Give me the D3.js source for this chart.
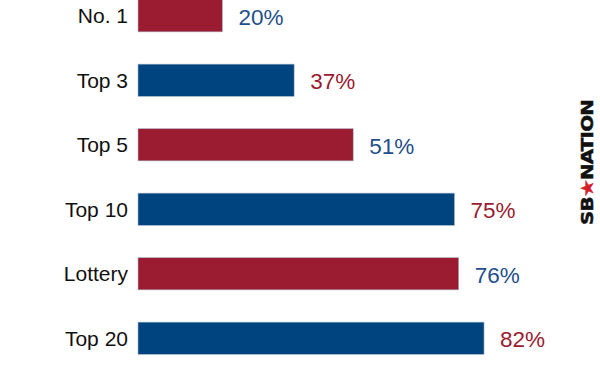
<!DOCTYPE html>
<html><head><meta charset="utf-8">
<script src="https://cdn.jsdelivr.net/npm/d3@7/dist/d3.min.js"></script>
<style>body{margin:0;background:#fff}svg{display:block}</style>
</head><body>
<svg id="c" width="600" height="380"></svg>
<script>
const categories = ["No. 1","Top 3","Top 5","Top 10","Lottery","Top 20"];
const values = [20,37,51,75,76,82];
const barColors = ["#9b1b30","#00447f","#9b1b30","#00447f","#9b1b30","#00447f"];
const labelColors = ["#1f4f8c","#9b1b30","#1f4f8c","#9b1b30","#1f4f8c","#9b1b30"];

const svg = d3.select("#c");
const x = d3.scaleLinear().domain([0,100]).range([138,560]);
const y = d3.scaleBand().domain(categories).range([-16.5,370.5]).paddingInner(0.5).paddingOuter(0.25);

svg.selectAll("rect.bar").data(values).join("rect")
  .attr("class","bar")
  .attr("x",x(0)).attr("y",(d,i)=>y(categories[i]))
  .attr("width",d=>x(d)-x(0)).attr("height",y.bandwidth())
  .attr("fill",(d,i)=>barColors[i])
  .attr("stroke","#a9b8cc").attr("stroke-width",0.6);

svg.selectAll("text.cat").data(categories).join("text")
  .attr("class","cat")
  .attr("x",128).attr("y",d=>y(d)+y.bandwidth()/2)
  .attr("dy","0.35em").attr("text-anchor","end")
  .attr("font-family","Liberation Sans, Arial, sans-serif").attr("font-size",21)
  .attr("fill","#111").text(d=>d);

svg.selectAll("text.val").data(values).join("text")
  .attr("class","val")
  .attr("x",d=>x(d)+16).attr("y",(d,i)=>y(categories[i])+y.bandwidth()/2+1)
  .attr("dy","0.35em")
  .attr("font-family","Liberation Sans, Arial, sans-serif").attr("font-size",22.5)
  .attr("fill",(d,i)=>labelColors[i]).text(d=>d+"%");

const logo = svg.append("text")
  .attr("transform","translate(593,225) rotate(-90) scale(1.2,1)")
  .attr("font-family","DejaVu Sans, sans-serif").attr("font-weight","bold")
  .attr("font-size",16.5).attr("fill","#111")
  .attr("stroke","#111").attr("stroke-width",0.5)
  .attr("letter-spacing",-0.6);
logo.append("tspan").text("SB");
logo.append("tspan").attr("fill","#d4202a").attr("stroke","#d4202a").text("★");
logo.append("tspan").text("NATION");
</script>
</body></html>
